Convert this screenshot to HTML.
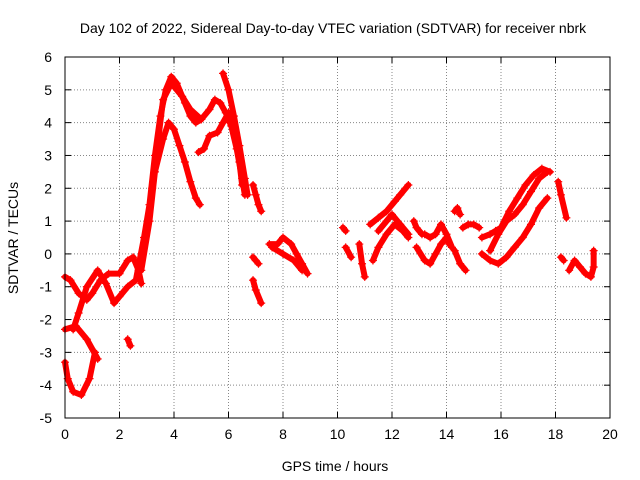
<!DOCTYPE html>
<html><head><meta charset="utf-8"><style>
body{margin:0;background:#fff}
svg{display:block;font-family:"Liberation Sans",sans-serif}
</style></head><body>
<svg id="chart" width="640" height="480">
<text x="333" y="33" font-size="14" text-anchor="middle">Day 102 of 2022, Sidereal Day-to-day VTEC variation (SDTVAR) for receiver nbrk</text>
<text x="335" y="471" font-size="14" text-anchor="middle">GPS time / hours</text>
<text transform="translate(18,238) rotate(-90)" font-size="14" text-anchor="middle">SDTVAR / TECUs</text>
<g id="grid"></g><g id="marks"></g>
<rect x="65" y="57" width="545" height="361" fill="none" stroke="#000"/>
</svg>
<script>
const xTicks=[0,2,4,6,8,10,12,14,16,18,20];
const yTicks=[-5,-4,-3,-2,-1,0,1,2,3,4,5,6];
const tracks=[
[[0,-3.3],[0.1,-3.8],[0.3,-4.2],[0.6,-4.3],[0.9,-3.8],[1.1,-3.0]],
[[0,-2.3],[0.4,-2.2],[0.8,-2.6],[1.2,-3.2]],
[[0,-0.7],[0.2,-0.8],[0.5,-1.2],[0.8,-1.4],[1.0,-1.2],[1.3,-0.8],[1.6,-0.6],[2.0,-0.6],[2.3,-0.2],[2.5,-0.1],[2.7,-0.5],[2.8,-0.9]],
[[0.3,-2.3],[0.5,-1.8],[0.8,-1.0],[1.2,-0.5],[1.5,-0.9],[1.8,-1.5],[2.0,-1.3],[2.3,-1.0],[2.6,-0.8],[2.9,0.5],[3.1,1.5],[3.3,3.0],[3.5,4.2],[3.7,5.0],[3.9,5.4],[4.1,5.2],[4.4,4.6],[4.6,4.2],[4.8,4.0],[5.0,4.1],[5.3,4.4],[5.5,4.7],[5.7,4.6],[5.9,4.3],[6.1,3.9],[6.3,3.2],[6.5,2.3],[6.6,1.8]],
[[2.8,-0.5],[3.1,1.0],[3.3,2.5],[3.6,3.5],[3.8,4.0],[4.0,3.8],[4.2,3.3],[4.4,2.8],[4.6,2.2],[4.8,1.7],[4.95,1.5]],
[[3.2,2.0],[3.6,4.7],[3.9,5.2],[4.3,4.8],[4.6,4.4],[5.0,4.1]],
[[4.9,3.1],[5.1,3.2],[5.3,3.6],[5.6,3.7],[5.8,4.0],[6.0,4.3],[6.2,3.9],[6.4,2.8],[6.5,2.1]],
[[5.8,5.5],[6.0,5.0],[6.2,4.2],[6.4,3.3],[6.6,2.3],[6.7,1.8]],
[[6.9,2.1],[7.0,1.8],[7.1,1.5],[7.2,1.3]],
[[6.9,-0.1],[7.0,-0.2],[7.1,-0.3]],
[[6.9,-0.8],[7.0,-1.1],[7.2,-1.5]],
[[2.3,-2.6],[2.4,-2.8]],
[[7.5,0.3],[7.8,0.3],[8.0,0.5],[8.3,0.3],[8.5,0],[8.7,-0.3],[8.9,-0.6]],
[[7.6,0.2],[8.0,0],[8.4,-0.2],[8.7,-0.5]],
[[10.2,0.8],[10.3,0.7]],[[10.3,0.2],[10.5,-0.1]],[[10.8,0.3],[10.9,-0.3],[11,-0.7]],
[[11.2,0.9],[11.5,1.1],[11.8,1.3],[12.1,1.6],[12.3,1.8],[12.6,2.1]],
[[11.3,-0.2],[11.5,0.2],[11.8,0.6],[12.1,0.9],[12.4,0.7],[12.6,0.5]],
[[11.5,0.7],[11.8,1.0],[12.0,1.2],[12.3,0.9],[12.6,0.6]],
[[12.8,1.0],[12.9,0.8],[13.1,0.6]],
[[12.9,0.2],[13.2,-0.2],[13.4,-0.3],[13.6,0],[13.8,0.3],[14.0,0.5],[14.1,0.3]],
[[13.2,0.6],[13.4,0.5],[13.6,0.6],[13.8,0.9],[14.0,0.6],[14.2,0.2]],
[[14.3,1.3],[14.4,1.4],[14.5,1.2]],[[14.3,0.1],[14.5,-0.3],[14.7,-0.5]],
[[14.6,0.8],[14.8,0.9],[15.0,0.9],[15.2,0.8]],
[[15.3,0.5],[15.6,0.6],[15.8,0.7],[16.0,0.8],[16.3,1.3],[16.6,1.7],[16.9,2.1],[17.2,2.4],[17.5,2.6],[17.8,2.5]],
[[15.3,0],[15.6,-0.2],[15.9,-0.3],[16.2,-0.1],[16.5,0.2],[16.8,0.5],[17.1,0.9],[17.4,1.4],[17.7,1.7]],
[[15.6,0.1],[15.9,0.6],[16.2,1.0],[16.5,1.2],[16.8,1.5],[17.1,1.9],[17.4,2.3],[17.7,2.5]],
[[18.1,2.2],[18.2,1.8],[18.4,1.1]],[[18.2,-0.1],[18.3,-0.2]],
[[18.5,-0.5],[18.7,-0.2],[18.9,-0.4],[19.1,-0.6],[19.3,-0.7],[19.4,-0.4],[19.4,0.1]]
];
const NS='http://www.w3.org/2000/svg';
const X0=65,X1=610,Y0=418,Y1=57;
const sx=v=>X0+(v-0)/(20-0)*(X1-X0);
const sy=v=>Y0-(v+5)/(11)*(Y0-Y1);
function mk(t,a,p){const e=document.createElementNS(NS,t);for(const k in a)e.setAttribute(k,a[k]);p.appendChild(e);return e;}
const g=document.getElementById('grid'),m=document.getElementById('marks');
xTicks.forEach(v=>{const x=sx(v);
 if(v>0&&v<20){mk('line',{x1:x,x2:x,y1:Y1,y2:Y0,stroke:'#888','stroke-dasharray':'1,2'},g);}
 mk('line',{x1:x,x2:x,y1:Y0,y2:Y0-6,stroke:'#000'},g);mk('line',{x1:x,x2:x,y1:Y1,y2:Y1+6,stroke:'#000'},g);
 const t=mk('text',{x:x,y:Y0+21,'font-size':14,'text-anchor':'middle'},g);t.textContent=v;
 
 
});
yTicks.forEach(v=>{const y=sy(v);
 if(v>-5&&v<6){mk('line',{x1:X0,x2:X1,y1:y,y2:y,stroke:'#888','stroke-dasharray':'1,2'},g);}
 mk('line',{x1:X0,x2:X0+6,y1:y,y2:y,stroke:'#000'},g);mk('line',{x1:X1,x2:X1-6,y1:y,y2:y,stroke:'#000'},g);
 const t=mk('text',{x:X0-13,y:y+5,'font-size':14,'text-anchor':'end'},g);t.textContent=v;
 
 
});
tracks.forEach(tr=>{
 const pl=mk('polyline',{points:tr.map(p=>sx(p[0])+','+sy(p[1])).join(' '),fill:'none',stroke:'#ff0000','stroke-width':6,'stroke-linejoin':'round','stroke-linecap':'round'},m);
 
 
 tr.forEach(p=>{const x=sx(p[0]),y=sy(p[1]);
  const pt=mk('path',{d:`M${x-4},${y}H${x+4}M${x},${y-4}V${y+4}`,stroke:'#ff0000','stroke-width':1.2},m);
  
  
 });
});
</script>
</body></html>
